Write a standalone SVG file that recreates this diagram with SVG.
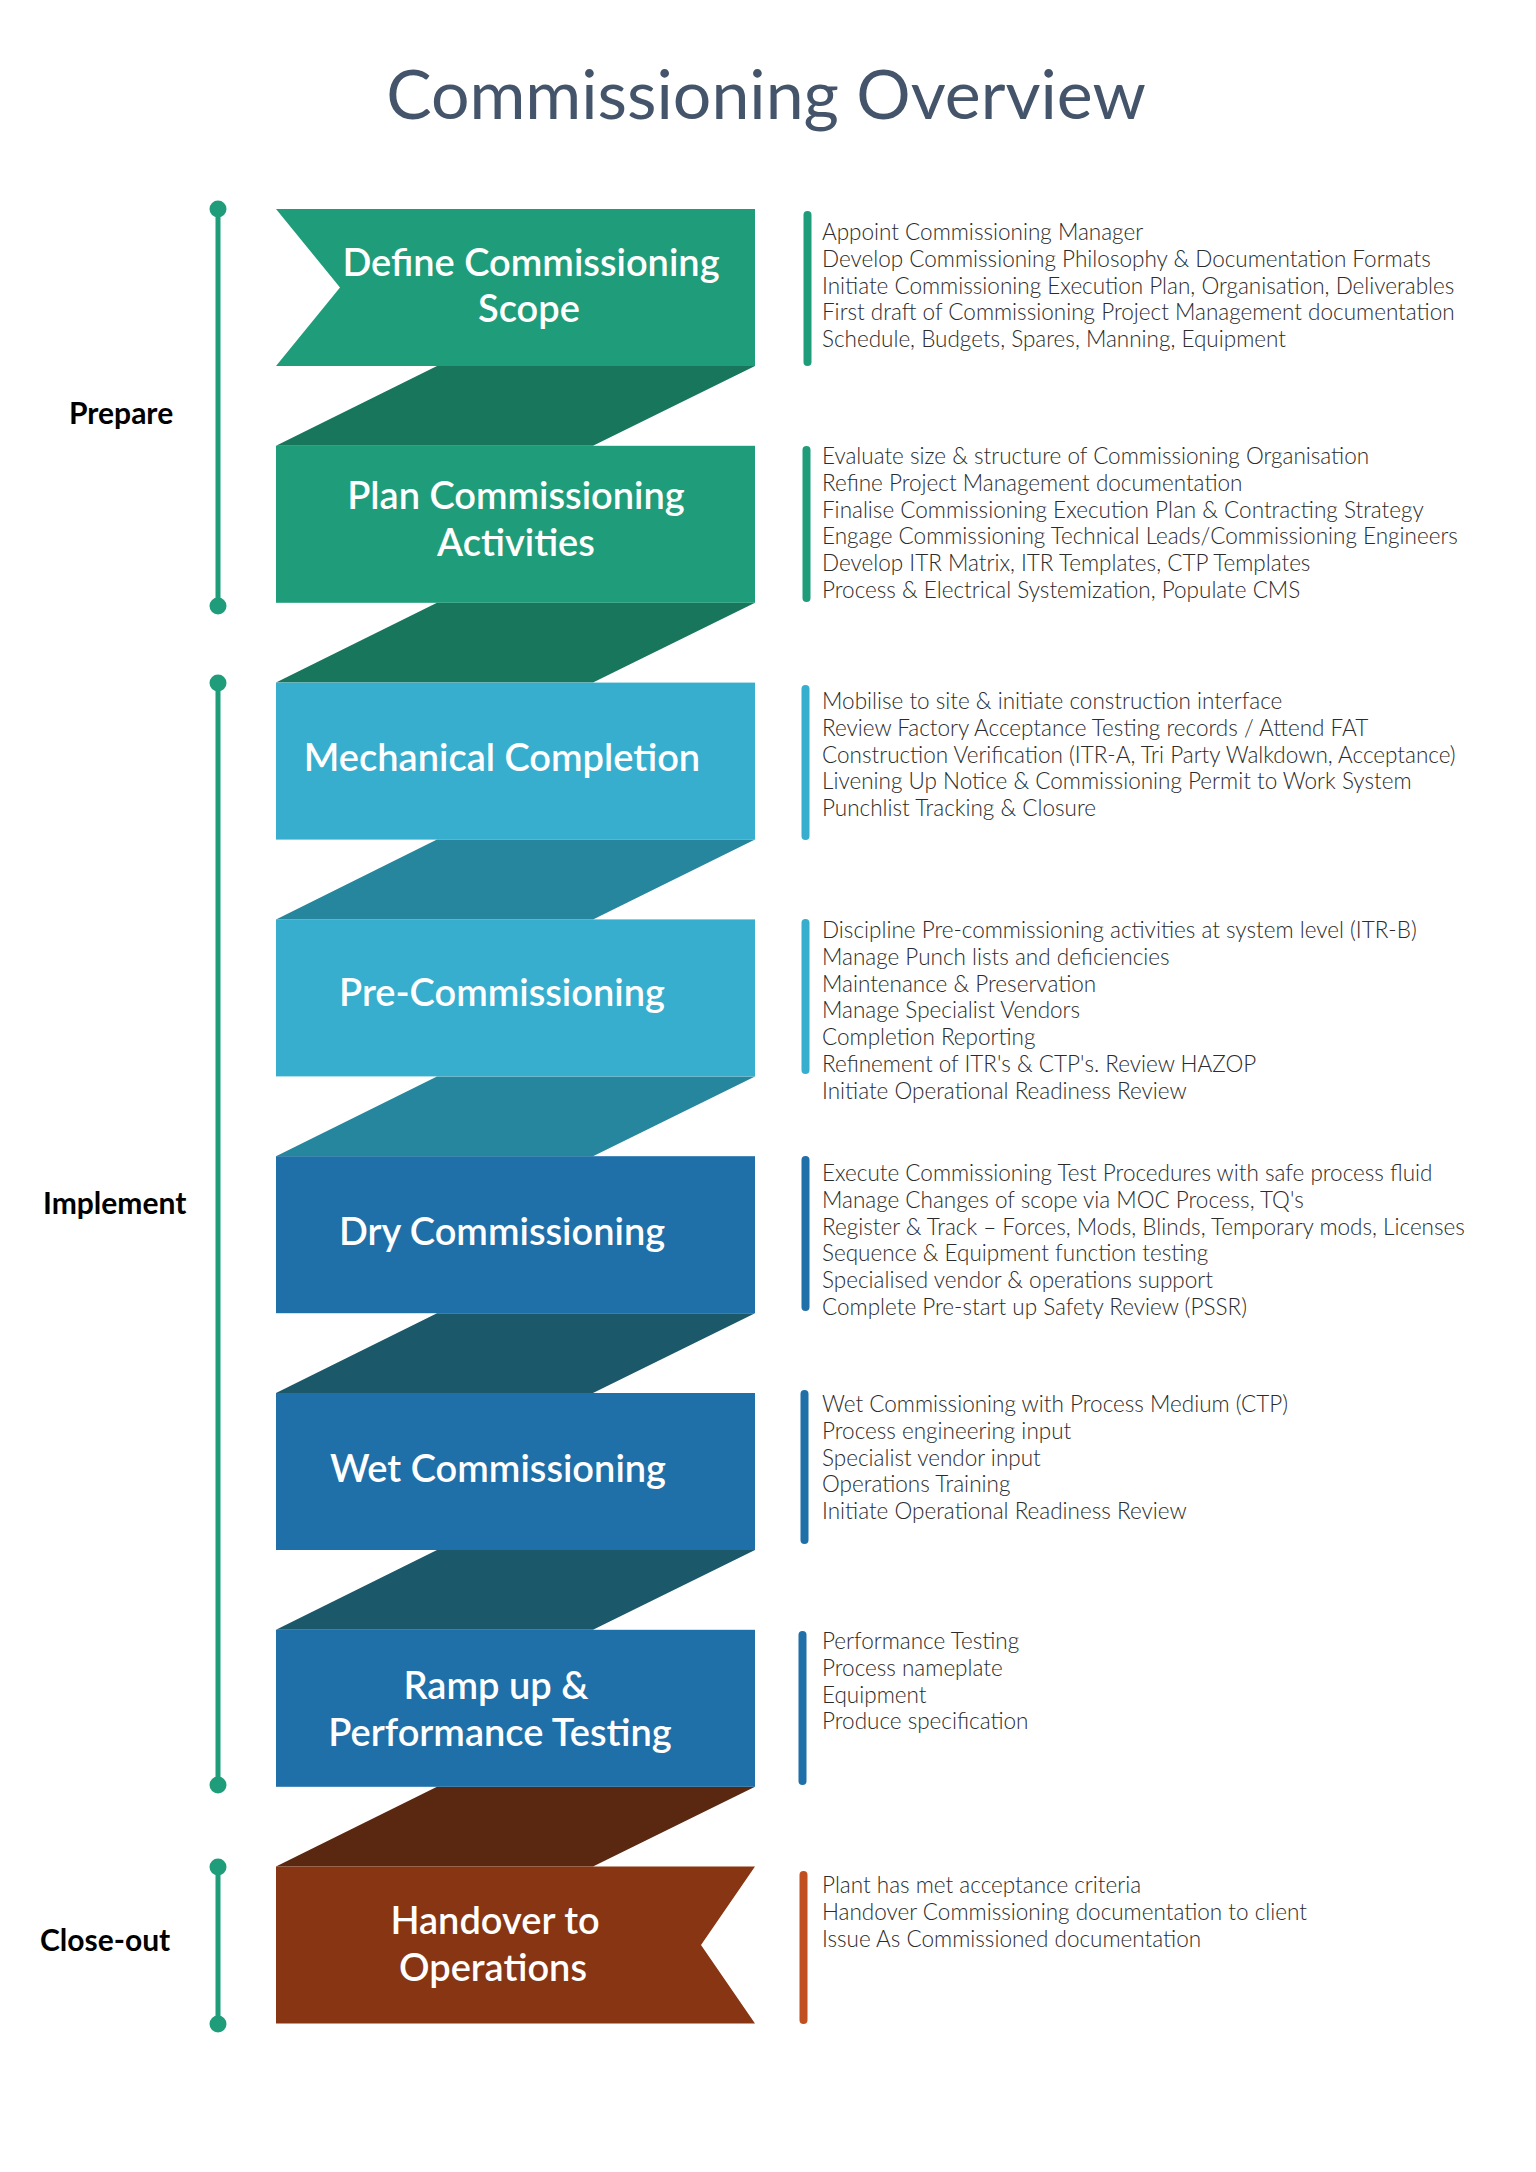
<svg xmlns="http://www.w3.org/2000/svg" width="1536" height="2172" viewBox="0 0 1536 2172">
<style>
.title{font-family:Lato,"Open Sans",sans-serif;font-size:68px;fill:#44546A;text-anchor:middle}
.phase{font-family:Lato,"Liberation Sans",sans-serif;font-size:30px;font-weight:700;fill:#000}
.nl{font-family:Lato,"Liberation Sans",sans-serif;font-size:38px;font-weight:600;fill:#fff;text-anchor:middle}
.d{font-family:Lato,"Liberation Sans",sans-serif;font-size:22.5px;font-weight:300;fill:#2b2b2b}
.tl{stroke:#1F9D7A;stroke-width:5}
.dot{fill:#1F9D7A}
.g{fill:#1F9D7A}.gf{fill:#17765B}
.lb{fill:#37AECE}.lbf{fill:#26869D}
.db{fill:#1F6FA8}.dbf{fill:#1B5869}
.br{fill:#873513}.brf{fill:#5A2710}
</style>
<rect width="1536" height="2172" fill="#fff"/>
<text class="title" x="766" y="119">Commissioning Overview</text>

<g id="timeline">
<line class="tl" x1="218" y1="209" x2="218" y2="606"/>
<circle class="dot" cx="218" cy="209" r="8.5"/><circle class="dot" cx="218" cy="606" r="8.5"/>
<line class="tl" x1="218" y1="683" x2="218" y2="1785"/>
<circle class="dot" cx="218" cy="683" r="8.5"/><circle class="dot" cx="218" cy="1785" r="8.5"/>
<line class="tl" x1="218" y1="1867" x2="218" y2="2024"/>
<circle class="dot" cx="218" cy="1867" r="8.5"/><circle class="dot" cx="218" cy="2024" r="8.5"/>
<text class="phase" x="69" y="424">Prepare</text>
<text class="phase" x="43" y="1214">Implement</text>
<text class="phase" x="40" y="1951">Close-out</text>
</g>

<g id="connectors">
<polygon class="gf" points="437,366 755,366 593,445.8 276,445.8"/>
<polygon class="gf" points="437,602.8 755,602.8 593,682.6 276,682.6"/>
<polygon class="lbf" points="437,839.6 755,839.6 593,919.4 276,919.4"/>
<polygon class="lbf" points="437,1076.4 755,1076.4 593,1156.2 276,1156.2"/>
<polygon class="dbf" points="437,1313.2 755,1313.2 593,1393 276,1393"/>
<polygon class="dbf" points="437,1550 755,1550 593,1629.8 276,1629.8"/>
<polygon class="brf" points="437,1786.8 755,1786.8 593,1866.6 276,1866.6"/>
</g>

<g id="node-define">
<polygon class="g" points="276,209 755,209 755,366 276,366 340,287.5"/>
<text class="nl" x="531" y="276">Define Commissioning</text>
<text class="nl" x="529" y="322">Scope</text>
<rect x="803.5" y="211" width="8" height="155" rx="4" class="g"/>
<text class="d" x="822" y="240">Appoint Commissioning Manager</text>
<text class="d" x="822" y="266.8">Develop Commissioning Philosophy &amp; Documentation Formats</text>
<text class="d" x="822" y="293.6">Initiate Commissioning Execution Plan, Organisation, Deliverables</text>
<text class="d" x="822" y="320.4">First draft of Commissioning Project Management documentation</text>
<text class="d" x="822" y="347.2">Schedule, Budgets, Spares, Manning, Equipment</text>
</g>

<g id="node-plan">
<rect class="g" x="276" y="445.8" width="479" height="157"/>
<text class="nl" x="516" y="509">Plan Commissioning</text>
<text class="nl" x="516" y="556">Activities</text>
<rect x="802.5" y="446" width="8" height="156" rx="4" class="g"/>
<text class="d" x="822" y="464">Evaluate size &amp; structure of Commissioning Organisation</text>
<text class="d" x="822" y="490.8">Refine Project Management documentation</text>
<text class="d" x="822" y="517.6">Finalise Commissioning Execution Plan &amp; Contracting Strategy</text>
<text class="d" x="822" y="544.4">Engage Commissioning Technical Leads/Commissioning Engineers</text>
<text class="d" x="822" y="571.2">Develop ITR Matrix, ITR Templates, CTP Templates</text>
<text class="d" x="822" y="598">Process &amp; Electrical Systemization, Populate CMS</text>
</g>

<g id="node-mechanical">
<rect class="lb" x="276" y="682.6" width="479" height="157"/>
<text class="nl" x="502" y="771">Mechanical Completion</text>
<rect x="801.5" y="685" width="8" height="155" rx="4" class="lb"/>
<text class="d" x="822" y="709">Mobilise to site &amp; initiate construction interface</text>
<text class="d" x="822" y="735.8">Review Factory Acceptance Testing records / Attend FAT</text>
<text class="d" x="822" y="762.6">Construction Verification (ITR-A, Tri Party Walkdown, Acceptance)</text>
<text class="d" x="822" y="789.4">Livening Up Notice &amp; Commissioning Permit to Work System</text>
<text class="d" x="822" y="816.2">Punchlist Tracking &amp; Closure</text>
</g>

<g id="node-precomm">
<rect class="lb" x="276" y="919.4" width="479" height="157"/>
<text class="nl" x="502" y="1006">Pre-Commissioning</text>
<rect x="801.5" y="919" width="8" height="155" rx="4" class="lb"/>
<text class="d" x="822" y="938">Discipline Pre-commissioning activities at system level (ITR-B)</text>
<text class="d" x="822" y="964.8">Manage Punch lists and deficiencies</text>
<text class="d" x="822" y="991.6">Maintenance &amp; Preservation</text>
<text class="d" x="822" y="1018.4">Manage Specialist Vendors</text>
<text class="d" x="822" y="1045.2">Completion Reporting</text>
<text class="d" x="822" y="1072">Refinement of ITR's &amp; CTP's. Review HAZOP</text>
<text class="d" x="822" y="1098.8">Initiate Operational Readiness Review</text>
</g>

<g id="node-dry">
<rect class="db" x="276" y="1156.2" width="479" height="157"/>
<text class="nl" x="502" y="1245">Dry Commissioning</text>
<rect x="801.5" y="1156" width="8" height="155" rx="4" class="db"/>
<text class="d" x="822" y="1181">Execute Commissioning Test Procedures with safe process fluid</text>
<text class="d" x="822" y="1207.8">Manage Changes of scope via MOC Process, TQ's</text>
<text class="d" x="822" y="1234.6">Register &amp; Track – Forces, Mods, Blinds, Temporary mods, Licenses</text>
<text class="d" x="822" y="1261.4">Sequence &amp; Equipment function testing</text>
<text class="d" x="822" y="1288.2">Specialised vendor &amp; operations support</text>
<text class="d" x="822" y="1315">Complete Pre-start up Safety Review (PSSR)</text>
</g>

<g id="node-wet">
<rect class="db" x="276" y="1393" width="479" height="157"/>
<text class="nl" x="498" y="1482">Wet Commissioning</text>
<rect x="800.5" y="1390" width="8" height="154" rx="4" class="db"/>
<text class="d" x="822" y="1412">Wet Commissioning with Process Medium (CTP)</text>
<text class="d" x="822" y="1438.8">Process engineering input</text>
<text class="d" x="822" y="1465.6">Specialist vendor input</text>
<text class="d" x="822" y="1492.4">Operations Training</text>
<text class="d" x="822" y="1519.2">Initiate Operational Readiness Review</text>
</g>

<g id="node-ramp">
<rect class="db" x="276" y="1629.8" width="479" height="157"/>
<text class="nl" x="496" y="1699">Ramp up &amp;</text>
<text class="nl" x="500" y="1746">Performance Testing</text>
<rect x="798.5" y="1631" width="8" height="154" rx="4" class="db"/>
<text class="d" x="822" y="1649">Performance Testing</text>
<text class="d" x="822" y="1675.8">Process nameplate</text>
<text class="d" x="822" y="1702.6">Equipment</text>
<text class="d" x="822" y="1729.4">Produce specification</text>
</g>

<g id="node-handover">
<polygon class="br" points="276,1866.6 755,1866.6 701,1945 755,2023.6 276,2023.6"/>
<text class="nl" x="495" y="1934">Handover to</text>
<text class="nl" x="493" y="1981">Operations</text>
<rect x="799.5" y="1871" width="8" height="153" rx="4" fill="#C0501F"/>
<text class="d" x="822" y="1893">Plant has met acceptance criteria</text>
<text class="d" x="822" y="1919.8">Handover Commissioning documentation to client</text>
<text class="d" x="822" y="1946.6">Issue As Commissioned documentation</text>
</g>
</svg>
